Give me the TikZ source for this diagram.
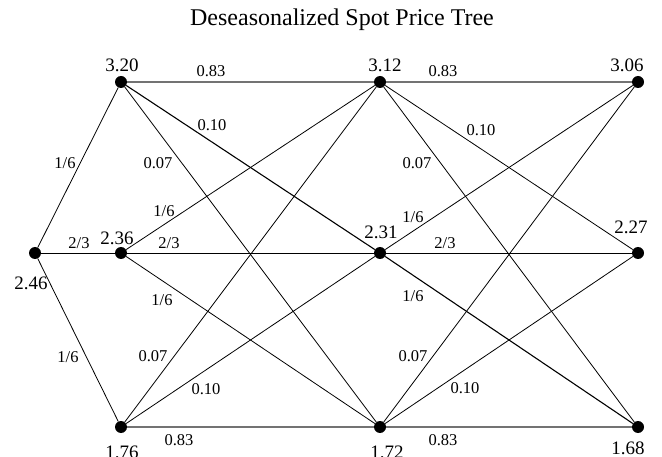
\documentclass[tikz,border=0pt]{standalone}
\usepackage{fontspec}
\setmainfont{Liberation Serif}
\begin{document}
\begin{tikzpicture}[x=1pt,y=-1pt,
  dot/.style={circle,fill=black,inner sep=0pt,minimum size=12pt},
  val/.style={font=\fontsize{19}{20}\selectfont,inner sep=0pt},
  prob/.style={font=\fontsize{16.5}{18}\selectfont,inner sep=0pt},
  edge/.style={line width=0.8pt,draw=black},
  hedge/.style={line width=1.3pt,draw=black!55}]
\useasboundingbox (0,0) rectangle (662,457);
\node[font=\fontsize{24}{26}\selectfont,inner sep=0pt] (title) at (342,20) {Deseasonalized Spot Price Tree};
% dots
\node[dot] (r)  at (35,253) {};
\node[dot] (a1) at (121,82) {};
\node[dot] (a2) at (121,253) {};
\node[dot] (a3) at (121,427) {};
\node[dot] (b1) at (380,82) {};
\node[dot] (b2) at (380,253) {};
\node[dot] (b3) at (380,427) {};
\node[dot] (c1) at (638,82) {};
\node[dot] (c2) at (638,253) {};
\node[dot] (c3) at (638,427) {};
% edges
\draw[edge] (r) -- (a1);
\draw[edge] (r) -- (a2);
\draw[edge] (r) -- (a3);
\draw[hedge] (a1) -- (b1);
\draw[edge,line width=1.1pt] (a1) -- (b2);
\draw[edge] (a1) -- (b3);
\draw[edge] (a2) -- (b1);
\draw[edge] (a2) -- (b2);
\draw[edge] (a2) -- (b3);
\draw[edge] (a3) -- (b1);
\draw[edge] (a3) -- (b2);
\draw[hedge] (a3) -- (b3);
\draw[hedge] (b1) -- (c1);
\draw[edge] (b1) -- (c2);
\draw[edge] (b1) -- (c3);
\draw[edge] (b2) -- (c1);
\draw[edge] (b2) -- (c2);
\draw[edge,line width=1.1pt] (b2) -- (c3);
\draw[edge] (b3) -- (c1);
\draw[edge] (b3) -- (c2);
\draw[hedge] (b3) -- (c3);
% value labels
\node[val] (lr)  at (31,283) {2.46};
\node[val] (la1) at (122,65) {3.20};
\node[val] (la2) at (117,238) {2.36};
\node[val] (la3) at (122,452) {1.76};
\node[val] (lb1) at (385,65) {3.12};
\node[val] (lb2) at (381,232) {2.31};
\node[val] (lb3) at (387,452) {1.72};
\node[val] (lc1) at (627,65) {3.06};
\node[val] (lc2) at (631,227) {2.27};
\node[val] (lc3) at (628,448) {1.68};
% probability labels
\node[prob] (p1) at (65,163) {1/6};
\node[prob] (p2) at (79,243) {2/3};
\node[prob] (p3) at (68,357) {1/6};
\node[prob] (q11) at (211,71) {0.83};
\node[prob] (q12) at (212,125) {0.10};
\node[prob] (q13) at (158,163) {0.07};
\node[prob] (q21) at (164,211) {1/6};
\node[prob] (q22) at (169,243) {2/3};
\node[prob] (q23) at (162,300) {1/6};
\node[prob] (q31) at (153,356) {0.07};
\node[prob] (q32) at (206,389) {0.10};
\node[prob] (q33) at (179,440) {0.83};
\node[prob] (s11) at (443,71) {0.83};
\node[prob] (s12) at (481,130) {0.10};
\node[prob] (s13) at (417,163) {0.07};
\node[prob] (s21) at (413,217) {1/6};
\node[prob] (s22) at (445,243) {2/3};
\node[prob] (s23) at (413,296) {1/6};
\node[prob] (s31) at (413,356) {0.07};
\node[prob] (s32) at (465,388) {0.10};
\node[prob] (s33) at (443,440) {0.83};
\end{tikzpicture}
\end{document}
